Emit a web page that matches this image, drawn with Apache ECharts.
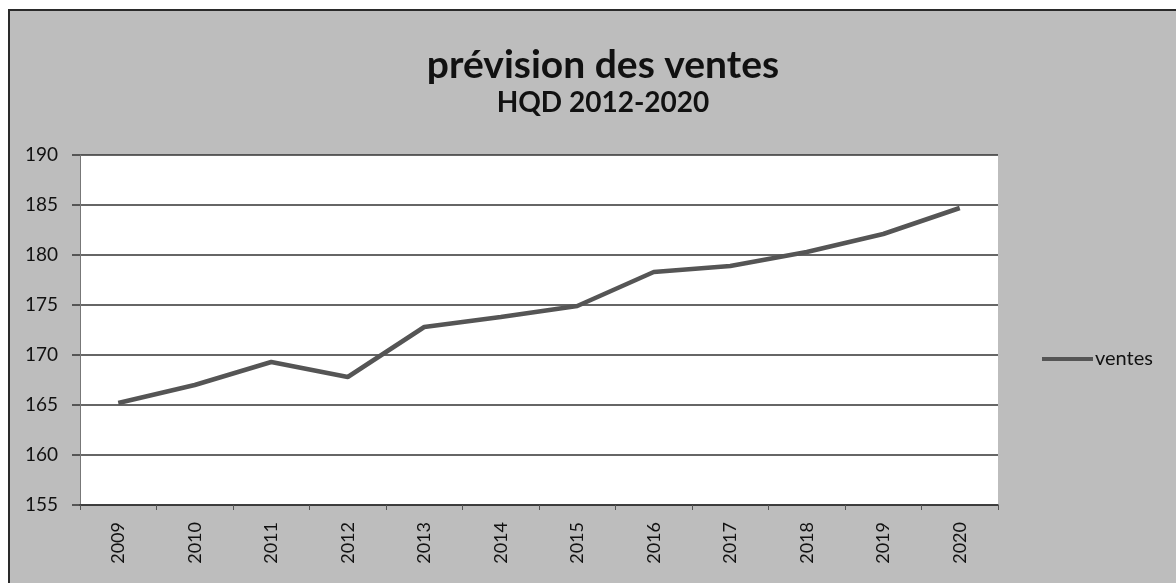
<!DOCTYPE html>
<html lang="fr">
<head>
    <meta charset="UTF-8">
    <title>prévision des ventes</title>
    <script src="https://cdn.jsdelivr.net/npm/echarts@6/dist/echarts.min.js"></script>
    <style>
        html, body {
            margin: 0;
            padding: 0;
            background: #ffffff;
        }

        #frame {
            position: absolute;
            left: 8px;
            top: 9px;
            width: 1168px;
            height: 574px;
            background: #bdbdbd;
            border-left: 2px solid #2a2a2a;
            border-top: 2px solid #2a2a2a;
            box-sizing: border-box;
        }

        #chart {
            position: absolute;
            left: 0;
            top: 0;
            width: 1176px;
            height: 583px;
        }
    </style>
</head>
<body>
    <div id="frame"></div>
    <div id="chart"></div>

    <script>
        // données
        const annees = ['2009', '2010', '2011', '2012', '2013', '2014', '2015', '2016', '2017', '2018', '2019', '2020'];
        const ventes = [165.2, 167.0, 169.3, 167.8, 172.8, 173.8, 174.9, 178.3, 178.9, 180.3, 182.1, 184.7];
        const yMin = 155;
        const yMax = 190;
        const yPas = 5;

        const police = 'Lato, "Open Sans", sans-serif';
        const chart = echarts.init(document.getElementById('chart'));

        const option = {
            backgroundColor: 'transparent',
            animation: false,
            title: {
                text: 'prévision des ventes',
                subtext: 'HQD 2012-2020',
                left: 598,
                top: 41,
                textAlign: 'center',
                itemGap: 4,
                textStyle: {
                    fontFamily: police,
                    fontWeight: 'bold',
                    fontSize: 39,
                    lineHeight: 39,
                    color: '#111111'
                },
                subtextStyle: {
                    fontFamily: police,
                    fontWeight: 'bold',
                    fontSize: 28,
                    lineHeight: 28,
                    color: '#111111'
                }
            },
            legend: {
                data: ['ventes'],
                left: 1037,
                top: 344,
                icon: 'rect',
                itemWidth: 51,
                itemHeight: 4,
                itemGap: 2,
                textStyle: {
                    fontFamily: police,
                    fontSize: 20,
                    color: '#111111',
                    padding: [0, 0, 0, -3]
                }
            },
            grid: {
                left: 80,
                right: 178,
                top: 155,
                bottom: 78,
                show: true,
                backgroundColor: '#ffffff',
                borderWidth: 0
            },
            xAxis: {
                type: 'category',
                data: annees,
                boundaryGap: true,
                axisLine: {
                    lineStyle: { color: '#333333', width: 1.5 }
                },
                axisTick: {
                    show: true,
                    length: 5,
                    lineStyle: { color: '#555555' }
                },
                axisLabel: {
                    rotate: 90,
                    margin: 17,
                    fontFamily: police,
                    fontSize: 18,
                    color: '#111111'
                }
            },
            yAxis: {
                type: 'value',
                min: yMin,
                max: yMax,
                interval: yPas,
                axisLine: {
                    show: true,
                    lineStyle: { color: '#777777', width: 1 }
                },
                axisTick: {
                    show: true,
                    length: 8,
                    lineStyle: { color: '#333333', width: 1.5 }
                },
                axisLabel: {
                    margin: 22,
                    fontFamily: police,
                    fontSize: 19,
                    color: '#111111'
                },
                splitLine: {
                    lineStyle: { color: '#333333', width: 1.5 }
                }
            },
            series: [{
                name: 'ventes',
                type: 'line',
                data: ventes,
                showSymbol: false,
                symbol: 'none',
                lineStyle: {
                    color: '#555555',
                    width: 4.5
                },
                itemStyle: {
                    color: '#555555'
                }
            }]
        };

        chart.setOption(option);
    </script>
</body>
</html>
